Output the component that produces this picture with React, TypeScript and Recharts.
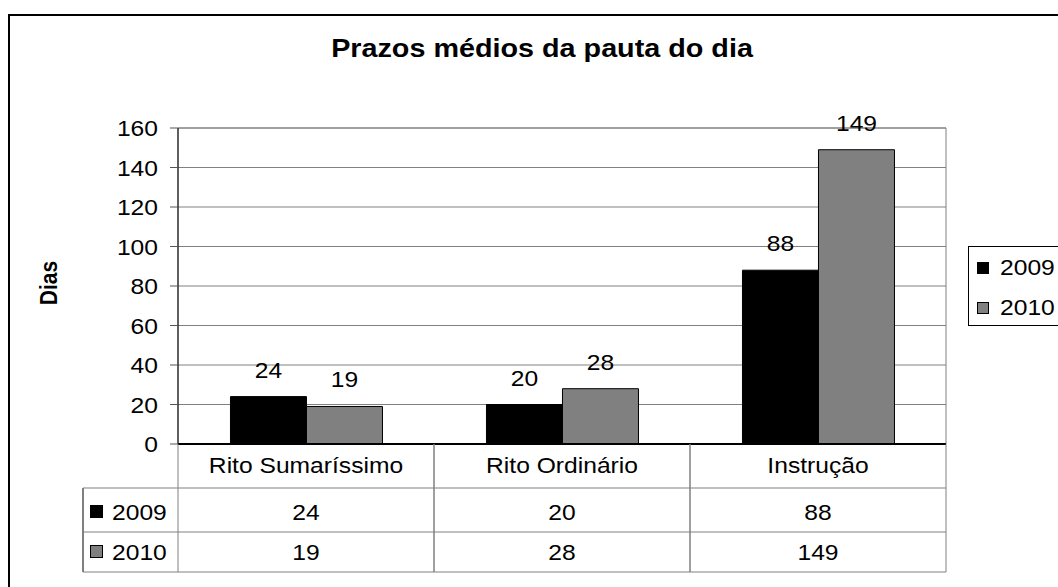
import React from 'react';
import { BarChart, Bar, XAxis, YAxis, CartesianGrid, LabelList, Legend, ReferenceArea } from 'recharts';

const categories = ['Rito Sumaríssimo', 'Rito Ordinário', 'Instrução'];
const values2009 = [24, 20, 88];
const values2010 = [19, 28, 149];
const yTicks = [0, 20, 40, 60, 80, 100, 120, 140, 160];
const seriesNames = ['2009', '2010'];
const seriesColors = ['#000000', '#808080'];
const chartTitle = 'Prazos médios da pauta do dia';
const yAxisTitle = 'Dias';

const data = categories.map((c, i) => ({ name: c, v2009: values2009[i], v2010: values2010[i] }));

const FONT = '"Liberation Sans", Arial, sans-serif';
const SX = 1.12;
const GRID = '#808080';

function T({ x, y, children, anchor = 'middle', size = 22, weight = 'normal', rotate = 0, sx = SX }: any) {
  return (
    <text
      transform={`translate(${x},${y}) scale(${sx},1)${rotate ? ` rotate(${rotate})` : ''}`}
      textAnchor={anchor}
      fontSize={size}
      fontWeight={weight}
      fontFamily={FONT}
      fill="#000"
    >
      {children}
    </text>
  );
}

const TableTick = (props: any) => {
  const { x, y, payload } = props;
  const half = payload && payload.offset ? payload.offset : 128;
  const i = categories.indexOf(payload.value);
  const L = x - half;
  const R = x + half;
  const rows = [44, 88, 128];
  const seriesVals = [values2009, values2010];
  return (
    <g>
      <line x1={L} y1={y} x2={L} y2={y + 128} stroke={GRID} />
      <line x1={R} y1={y} x2={R} y2={y + 128} stroke={GRID} />
      {rows.map((r) => (
        <line key={r} x1={L} y1={y + r} x2={R} y2={y + r} stroke={GRID} />
      ))}
      <T x={x} y={y + 29}>{payload.value}</T>
      <T x={x} y={y + 76}>{seriesVals[0][i]}</T>
      <T x={x} y={y + 116}>{seriesVals[1][i]}</T>
      {i === 0 && (
        <g>
          <line x1={L - 95} y1={y + 44} x2={L - 95} y2={y + 128} stroke="#000" />
          {rows.map((r) => (
            <line key={'l' + r} x1={L - 95} y1={y + r} x2={L} y2={y + r} stroke={GRID} />
          ))}
          {seriesNames.map((s, k) => {
            const cy = k === 0 ? y + 68 : y + 108;
            return (
              <g key={s}>
                <rect x={L - 87.5} y={cy - 6.5} width={12} height={12} fill={seriesColors[k]} stroke="#000" />
                <T x={L - 66} y={cy + 8} anchor="start">{s}</T>
              </g>
            );
          })}
        </g>
      )}
    </g>
  );
};

const YTick = (props: any) => {
  const { x, y, payload } = props;
  return <T x={x} y={y + 8} anchor="end">{payload.value}</T>;
};

const BarLabel = (p: any) => {
  const { x, y, width, value } = p;
  return <T x={Number(x) + Number(width) / 2} y={Number(y) - 19}>{value}</T>;
};

const LegendBox = () => (
  <div
    style={{
      width: 110,
      height: 80,
      border: '1px solid #000',
      boxSizing: 'border-box',
      background: '#fff',
      position: 'relative',
      fontFamily: FONT,
      fontSize: 22,
      color: '#000',
    }}
  >
    {seriesNames.map((s, k) => (
      <div key={s} style={{ position: 'absolute', left: 8, top: k === 0 ? 14 : 54, height: 14, display: 'flex', alignItems: 'center' }}>
        <div style={{ width: 12, height: 12, background: seriesColors[k], border: '1px solid #000', boxSizing: 'border-box' }} />
        <div style={{ marginLeft: 11, transform: `scaleX(${SX})`, transformOrigin: 'left center', lineHeight: '14px' }}>{s}</div>
      </div>
    ))}
  </div>
);

export default function App() {
  return (
    <div style={{ position: 'fixed', left: 0, top: 0, width: 1058, height: 587, overflow: 'hidden', background: '#fff' }}>
      <div
        style={{
          position: 'absolute',
          left: 8,
          top: 14,
          width: 1100,
          height: 700,
          border: '2px solid #000',
          boxSizing: 'border-box',
        }}
      />
      <div style={{ position: 'absolute', left: 0, top: 0 }}>
        <BarChart
          width={1058}
          height={587}
          data={data}
          margin={{ top: 128, right: 112, left: 98, bottom: 15 }}
          barCategoryGap="20.5%"
          barGap={0}
        >
          <CartesianGrid vertical={false} stroke={GRID} strokeDasharray="" />
          <ReferenceArea x1={categories[0]} x2={categories[categories.length - 1]} y1={0} y2={160} stroke={GRID} fill="none" strokeWidth={1} />
          <XAxis
            dataKey="name"
            height={128}
            tickSize={0}
            tickMargin={0}
            tickLine={false}
            axisLine={{ stroke: '#000', strokeWidth: 2 }}
            tick={<TableTick />}
            interval={0}
          />
          <YAxis
            width={80}
            domain={[0, 160]}
            ticks={yTicks}
            interval={0}
            tickSize={8}
            tickMargin={12}
            axisLine={{ stroke: '#000' }}
            tickLine={{ stroke: '#555' }}
            tick={<YTick />}
          />
          <Legend
            layout="horizontal"
            align="center"
            verticalAlign="middle"
            content={<LegendBox />}
            wrapperStyle={{ position: 'absolute', left: 968, top: 246, width: 110, height: 80 }}
          />
          <Bar dataKey="v2009" name={seriesNames[0]} fill={seriesColors[0]} stroke="#000" isAnimationActive={false}>
            <LabelList dataKey="v2009" content={<BarLabel />} />
          </Bar>
          <Bar dataKey="v2010" name={seriesNames[1]} fill={seriesColors[1]} stroke="#000" isAnimationActive={false}>
            <LabelList dataKey="v2010" content={<BarLabel />} />
          </Bar>
          <T x={542} y={57} size={25} weight="bold" sx={1.15}>{chartTitle}</T>
          <T x={57} y={283} size={21} weight="bold" rotate={-90}>{yAxisTitle}</T>
        </BarChart>
      </div>
    </div>
  );
}
